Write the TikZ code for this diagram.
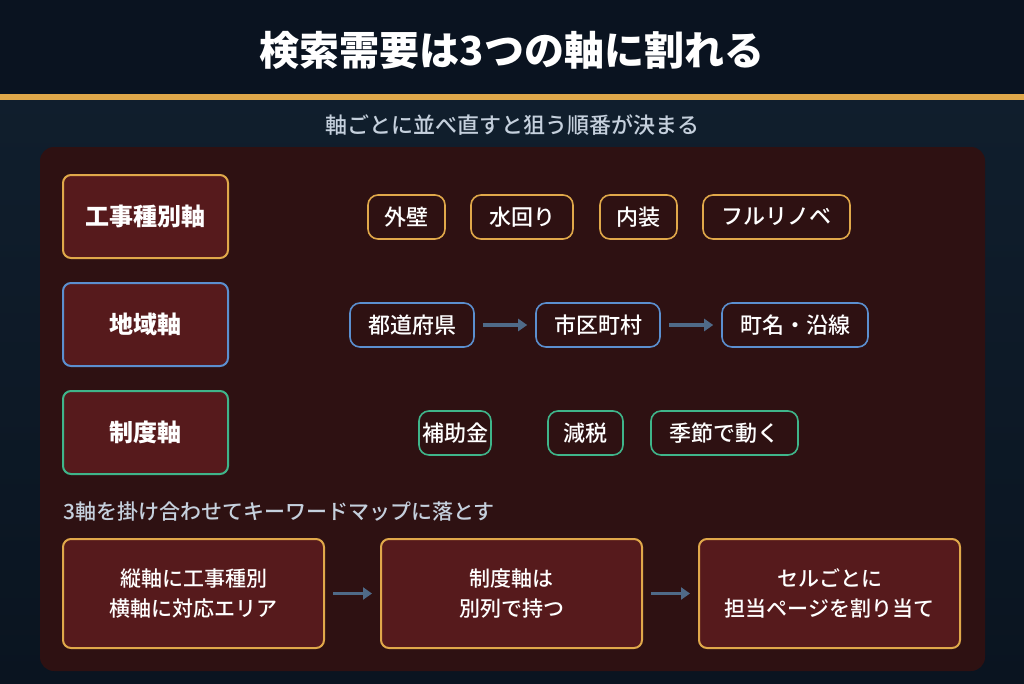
\documentclass[tikz,border=0pt]{standalone}
\usepackage{fontspec}
\setmainfont{Noto Sans CJK JP}
\newfontfamily\medfont{Noto Sans CJK JP Medium}
\newfontfamily\blackfont{Noto Sans CJK JP Black}
\usetikzlibrary{arrows.meta}
\definecolor{hdr}{HTML}{0A1320}
\definecolor{bgtop}{HTML}{11202F}
\definecolor{bgbot}{HTML}{0A1420}
\definecolor{gold}{HTML}{E0A84A}
\definecolor{panel}{HTML}{2E1112}
\definecolor{boxfill}{HTML}{561A1C}
\definecolor{blueb}{HTML}{5B8FCF}
\definecolor{greenb}{HTML}{3FB58A}
\definecolor{subtxt}{HTML}{C5D0DD}
\definecolor{arrc}{HTML}{4F6A88}
\tikzset{
  axisbox/.style={draw, line width=2pt, rounded corners=8pt, fill=boxfill,
    minimum width=165pt, minimum height=83pt, text=white,
    font=\bfseries\fontsize{24}{28}\selectfont},
  chip/.style={draw, line width=1.6pt, rounded corners=10pt, fill=panel,
    minimum height=44pt, inner xsep=0pt, text=white,
    font=\medfont\fontsize{22}{26}\selectfont},
  stepcard/.style={draw=gold, line width=2pt, rounded corners=8pt, fill=boxfill,
    minimum width=261pt, minimum height=109pt, text=white, align=center,
    font=\medfont\fontsize{21}{30}\selectfont},
  arr/.style={draw=arrc, line width=3.2pt, -{Triangle[length=9pt,width=12pt]},
    shorten <=8pt, shorten >=8pt}
}
\begin{document}
\begin{tikzpicture}[x=1pt,y=-1pt]
\useasboundingbox (0,0) rectangle (1024,683);
\shade[top color=bgtop,bottom color=bgbot] (0,0) rectangle (1024,683);
\fill[hdr] (0,0) rectangle (1024,94);
\fill[gold] (0,94) rectangle (1024,100);
\node[text=white, font=\blackfont\fontsize{40}{44}\selectfont] (title) at (512,50) {検索需要は3つの軸に割れる};
\node[text=subtxt, font=\medfont\fontsize{22}{26}\selectfont] (sub) at (512,125) {軸ごとに並べ直すと狙う順番が決まる};
\fill[panel, rounded corners=14pt] (40,147) rectangle (985,671);

% axis boxes
\node[axisbox, draw=gold] (ax1) at (145.5,216.5) {工事種別軸};
\node[axisbox, draw=blueb] (ax2) at (145.5,324.5) {地域軸};
\node[axisbox, draw=greenb] (ax3) at (145.5,432.5) {制度軸};

% row 1 chips
\node[chip, draw=gold, minimum width=77pt] (c11) at (406.5,217) {外壁};
\node[chip, draw=gold, minimum width=102pt] (c12) at (522,217) {水回り};
\node[chip, draw=gold, minimum width=77pt] (c13) at (638.5,217) {内装};
\node[chip, draw=gold, minimum width=147pt] (c14) at (776.5,217) {フルリノベ};

% row 2 chips
\node[chip, draw=blueb, minimum width=124pt] (c21) at (412,325) {都道府県};
\node[chip, draw=blueb, minimum width=124pt] (c22) at (598,325) {市区町村};
\node[chip, draw=blueb, minimum width=146pt] (c23) at (795,325) {町名・沿線};
\draw[arr] (c21) -- (c22);
\draw[arr] (c22) -- (c23);

% row 3 chips
\node[chip, draw=greenb, minimum width=72pt] (c31) at (455,433) {補助金};
\node[chip, draw=greenb, minimum width=75pt] (c32) at (585.5,433) {減税};
\node[chip, draw=greenb, minimum width=147pt] (c33) at (724.5,433) {季節で動く};

% bottom section
\node[text=subtxt, anchor=west, inner sep=0pt, font=\medfont\fontsize{21}{25}\selectfont] (lbl) at (63,512) {3軸を掛け合わせてキーワードマップに落とす};
\node[stepcard] (s1) at (193.5,593.5) {縦軸に工事種別\\横軸に対応エリア};
\node[stepcard] (s2) at (511.5,593.5) {制度軸は\\別列で持つ};
\node[stepcard] (s3) at (829.5,593.5) {セルごとに\\担当ページを割り当て};
\draw[arr] (s1) -- (s2);
\draw[arr] (s2) -- (s3);
\end{tikzpicture}
\end{document}
